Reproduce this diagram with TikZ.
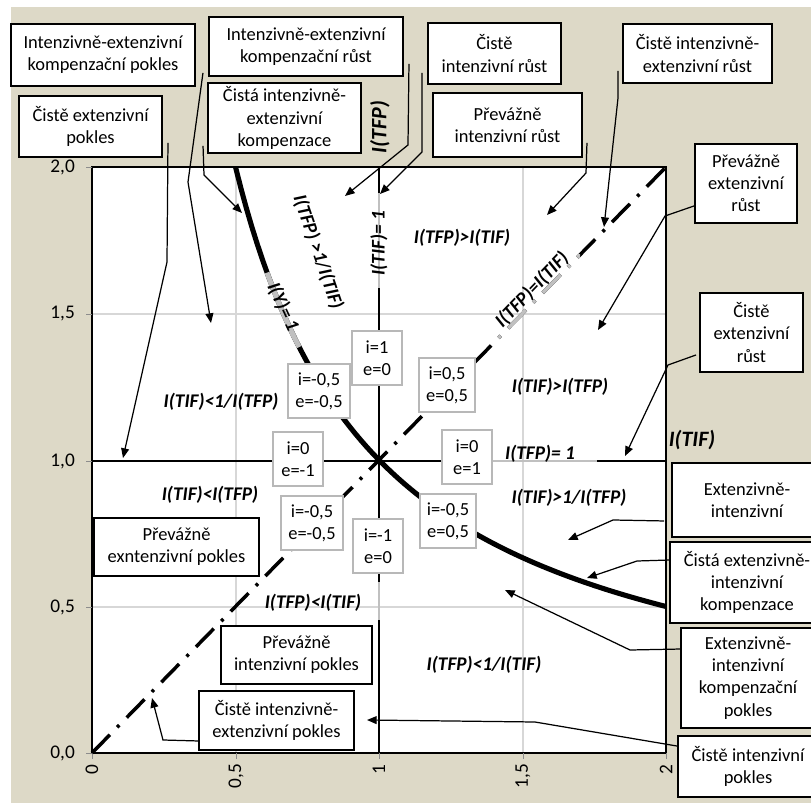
\documentclass[tikz,border=0pt]{standalone}
\usepackage{fontspec}
\setmainfont{Carlito}
\usetikzlibrary{arrows.meta}
\definecolor{bezova}{RGB}{221,217,199}
\definecolor{mrizka}{RGB}{215,215,215}
\definecolor{seda}{RGB}{192,192,192}

\begin{document}
\begin{tikzpicture}[x=0.02cm,y=-0.02cm,font=\fontsize{10.5}{12.6}\selectfont,
  ramec/.style={draw,line width=1.1pt,fill=white,align=center,inner sep=1pt},
  ie/.style={draw=black!28,line width=1pt,fill=white,align=center,minimum width=1cm,minimum height=1.08cm,inner xsep=4pt},
  vztah/.style={font=\fontsize{11}{13}\selectfont\bfseries\itshape},
  osa/.style={font=\fontsize{12.5}{14}\selectfont\bfseries\itshape},
  tecky/.style={line width=2pt,dash pattern=on 14.5pt off 6pt on 1.7pt off 6pt},
  sip/.style={line width=0.7pt,-{Triangle[length=5.5pt,width=4.5pt]}}]
\newcommand{\ramec}[6]{\node[ramec,minimum width={(#4-#2)*0.02cm},minimum height={(#5-#3)*0.02cm}] (#1) at ({(#2+#4)/2},{(#3+#5)/2}) {#6};}
\clip (0,0) rectangle (811,803);
\fill[white] (0,0) rectangle (811,803);
\fill[bezova] (11,7) rectangle (811,803);
\fill[white] (92,167) rectangle (666,753);
\foreach \g in {236,523} \draw[mrizka,line width=0.6pt] (\g,167) -- (\g,753);
\foreach \g in {314,607} \draw[mrizka,line width=0.6pt] (92,\g) -- (666,\g);
\draw[line width=1.2pt] (92,167) rectangle (666,753);
\foreach \yy/\t in {167/{2,0},314/{1,5},461/{1,0},607/{0,5},753/{0,0}}{
  \draw[black!45] (86,\yy) -- (92,\yy);
  \node[anchor=east,font=\fontsize{11}{13}\selectfont] (y\yy) at (81,\yy) {\t};}
\foreach \xx/\t in {92/0,236/{0,5},379/1,523/{1,5},666/2}{
  \draw[black!45] (\xx,753) -- (\xx,759);
  \node[anchor=east,rotate=90,font=\fontsize{11}{13}\selectfont] (x\xx) at (\xx,758) {\t};}
\draw[line width=1.7pt] (92,461) -- (666,461);
\draw[line width=1.7pt] (379,167) -- (379,753);
\draw[tecky] (92,753) -- (666,167);
\draw[line width=2.9pt] plot[domain=0.5:2,samples=80] ({92+287*\x},{753-293/\x});
\draw[seda,line width=1.7pt] (492,461) -- (597,461);
\draw[seda,line width=1.7pt] (379,193) -- (379,288) (379,582) -- (379,620);
\draw[seda,line width=2.9pt] plot[domain=0.61:0.722,samples=20] ({92+287*\x},{753-293/\x});
\begin{scope}
  \clip (495,255) rectangle (580,340);
  \draw[seda,tecky] (92,753) -- (666,167);
\end{scope}
\node[vztah] (l1) at (462,238) {I(TFP)>I(TIF)};
\node[vztah] (l2) at (221,402) {I(TIF)<1/I(TFP)};
\node[vztah] (l3) at (560,387) {I(TIF)>I(TFP)};
\node[vztah] (l4) at (210,495) {I(TIF)<I(TFP)};
\node[vztah] (l5) at (313,603) {I(TFP)<I(TIF)};
\node[vztah] (l6) at (569,498) {I(TIF)>1/I(TFP)};
\node[vztah] (l7) at (484,665) {I(TFP)<1/I(TIF)};
\node[vztah] (l8) at (540,454) {I(TFP)= 1};
\node[vztah,rotate=90] (l9) at (379,243) {I(TIF)= 1};
\node[vztah,rotate=-71] (l10) at (318,252) {I(TFP) >1/I(TIF)};
\node[vztah,rotate=-65] (l11) at (283,307) {I(Y)= 1};
\node[vztah,rotate=46] (l12) at (532,290) {I(TFP)=I(TIF)};
\node[osa] (ox) at (692,440) {I(TIF)};
\node[osa,rotate=90] (oy) at (380,127) {I(TFP)};
\foreach \nm/\cx/\cy/\t in {ia/377/358/{i=1\\e=0},ib/319/391/{i=-0,5\\e=-0,5},ic/298/459/{i=0\\e=-1},id/447/385/{i=0,5\\e=0,5},
  ie/467/457/{i=0\\e=1},if/312/523/{i=-0,5\\e=-0,5},ig/378/546/{i=-1\\e=0},ih/448/521/{i=-0,5\\e=0,5}}
  \node[ie] (\nm) at (\cx,\cy) {\t};
\ramec{b1}{11}{24}{195}{86}{Intenzivně-extenzivní\\kompenzační pokles}
\ramec{b2}{209}{17}{403}{76}{Intenzivně-extenzivní\\kompenzační růst}
\ramec{b3}{19}{96}{162}{157}{Čistě extenzivní\\pokles}
\ramec{b4}{208}{83}{361}{153}{Čistá intenzivně-\\extenzivní\\kompenzace}
\ramec{b5}{428}{23}{561}{84}{Čistě\\intenzivní růst}
\ramec{b6}{433}{93}{582}{157}{Převážně\\intenzivní růst}
\ramec{b7}{623}{24}{772}{83}{Čistě intenzivně-\\extenzivní růst}
\ramec{b8}{695}{144}{797}{223}{Převážně\\extenzivní\\růst}
\ramec{b9}{700}{293}{803}{372}{Čistě\\extenzivní\\růst}
\ramec{b10}{672}{463}{822}{537}{Extenzivně-\\intenzivní}
\ramec{b11}{670}{542}{824}{623}{Čistá extenzivně-\\intenzivní\\kompenzace}
\ramec{b12}{681}{628}{815}{728}{Extenzivně-\\intenzivní\\kompenzační\\pokles}
\ramec{b13}{678}{736}{818}{797}{Čistě intenzivní\\pokles}
\ramec{b14}{94}{518}{259}{576}{Převážně\\exntenzivní pokles}
\ramec{b15}{221}{626}{372}{684}{Převážně\\intenzivní pokles}
\ramec{b16}{199}{691}{354}{750}{Čistě intenzivně-\\extenzivní pokles}
\coordinate (t1) at (211,323);
\coordinate (t2) at (123,458);
\coordinate (t3) at (242,213);
\coordinate (t4) at (345,196);
\coordinate (t5) at (380,194);
\coordinate (t6) at (547,215);
\coordinate (t7) at (604,227);
\coordinate (t8) at (598,330);
\coordinate (t9) at (625,456);
\coordinate (t10) at (568,540);
\coordinate (t11) at (587,578);
\coordinate (t12) at (505,590);
\coordinate (t13) at (367,720);
\coordinate (t14) at (152,698);
\draw[sip] ([shift={(7,-14)}]b1.south east) -- (188,182) -- (t1);
\draw[sip] ([shift={(5,-15)}]b3.south east) -- (167,262) -- (t2);
\draw[sip] ([shift={(-4,-8)}]b4.south west) -- (204,175) -- (t3);
\draw[sip] ([shift={(5,-13)}]b2.south east) -- (408,145) -- (t4);
\draw[sip] ([shift={(-5,-12)}]b5.south west) -- (422,152) -- (t5);
\draw[sip] ([shift={(4,-15)}]b6.south east) -- (586,173) -- (t6);
\draw[sip] ([shift={(-4,-13)}]b7.south west) -- (618,98) -- (t7);
\draw[sip] ([shift={(0,-18)}]b8.south west) -- (665,216) -- (t8);
\draw[sip] ([shift={(-3,-18)}]b9.south west) -- (668,365) -- (t9);
\draw[sip] ([shift={(-7,-17)}]b10.south west) -- (613,520) -- (t10);
\draw[sip] ([shift={(0,19)}]b11.north west) -- (637,561) -- (t11);
\draw[sip] ([shift={(0,22)}]b12.north west) -- (630,650) -- (t12);
\draw[sip] ([shift={(0,11)}]b13.north west) -- (535,722) -- (t13);
\draw[sip] ([shift={(0,-10)}]b16.south west) -- (163,740) -- (t14);
\end{tikzpicture}
\end{document}
